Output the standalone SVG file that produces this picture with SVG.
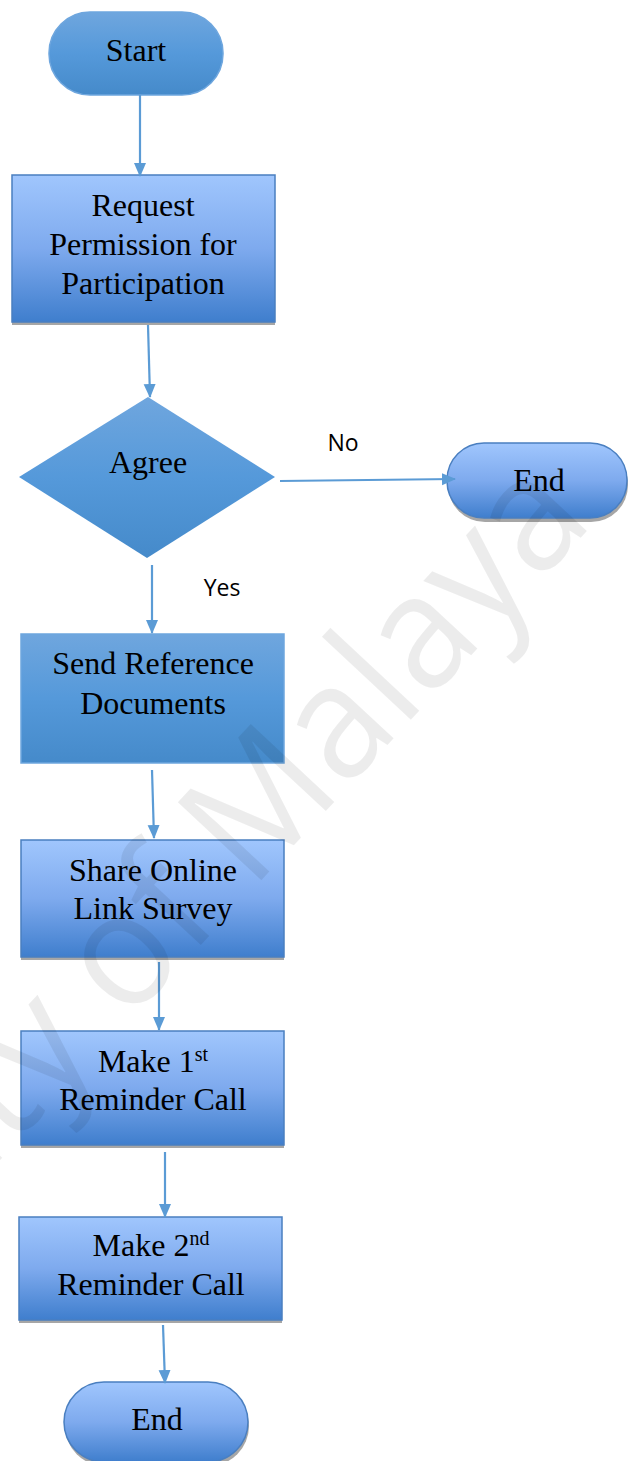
<svg xmlns="http://www.w3.org/2000/svg" width="628" height="1461" viewBox="0 0 628 1461">
<defs>
<linearGradient id="gl" x1="0" y1="0" x2="0" y2="1">
<stop offset="0" stop-color="#a0c6fd"/>
<stop offset="0.5" stop-color="#7eaaee"/>
<stop offset="1" stop-color="#3f7ecd"/>
</linearGradient>
<linearGradient id="gm" x1="0" y1="0" x2="0" y2="1">
<stop offset="0" stop-color="#6fa6de"/>
<stop offset="0.5" stop-color="#5599da"/>
<stop offset="1" stop-color="#458aca"/>
</linearGradient>
<marker id="ah" markerWidth="14" markerHeight="14" refX="13" refY="7" orient="auto" markerUnits="userSpaceOnUse" viewBox="0 0 14 14">
<path d="M0,1 L14,7 L0,13 Z" fill="#5b9bd5"/>
</marker>
</defs>
<style>
.t{font-family:"Liberation Serif","Times New Roman",serif;font-size:32px;fill:#000;text-anchor:middle}
.s{font-family:"Open Sans","Noto Sans",sans-serif;font-size:23px;fill:#000;text-anchor:middle}
.sh{fill:#a6a6a6}
.bl{fill:url(#gl);stroke:#4a7fc0;stroke-width:1.5}
.bm{fill:url(#gm);stroke:#6ea6de;stroke-width:1.5}
.c{stroke:#5b9bd5;stroke-width:2.2;fill:none;marker-end:url(#ah)}
.wm{font-family:"Open Sans","Noto Sans",sans-serif;font-size:160px;fill:#000;fill-opacity:0.075}
</style>
<rect width="628" height="1461" fill="#fff"/>

<g id="start">
<rect x="49" y="12" width="174" height="83" rx="41" class="bm"/>
<text x="136" y="61" class="t">Start</text>
</g>

<g id="request">
<rect x="12" y="178" width="263" height="147" class="sh"/>
<rect x="12" y="175" width="263" height="147" class="bl"/>
<text x="143" y="216" class="t">Request</text>
<text x="143" y="255" class="t">Permission for</text>
<text x="143" y="294" class="t">Participation</text>
</g>

<g id="agree">
<polygon points="148,397 275,477 147,558 19,477" fill="url(#gm)"/>
<text x="148" y="473" class="t">Agree</text>
</g>

<g id="end1">
<rect x="448" y="447" width="180" height="75" rx="37" class="sh"/>
<rect x="447" y="443" width="180" height="75" rx="37" class="bl"/>
<text x="539" y="491" class="t">End</text>
</g>

<g id="send">
<rect x="21" y="634" width="263" height="129" class="bm"/>
<text x="153" y="674" class="t">Send Reference</text>
<text x="153" y="714" class="t">Documents</text>
</g>

<g id="share">
<rect x="21" y="843" width="263" height="117" class="sh"/>
<rect x="21" y="840" width="263" height="117" class="bl"/>
<text x="153" y="881" class="t">Share Online</text>
<text x="153" y="919" class="t">Link Survey</text>
</g>

<g id="remind1">
<rect x="21" y="1034" width="263" height="114" class="sh"/>
<rect x="21" y="1031" width="263" height="114" class="bl"/>
<text x="153" y="1072" class="t">Make 1<tspan font-size="20" dy="-11">st</tspan></text>
<text x="153" y="1110" class="t">Reminder Call</text>
</g>

<g id="remind2">
<rect x="19" y="1220" width="263" height="103" class="sh"/>
<rect x="19" y="1217" width="263" height="103" class="bl"/>
<text x="151" y="1256" class="t">Make 2<tspan font-size="20" dy="-11">nd</tspan></text>
<text x="151" y="1295" class="t">Reminder Call</text>
</g>

<g id="end2">
<rect x="65" y="1386" width="184" height="80" rx="40" class="sh"/>
<rect x="64" y="1382" width="184" height="80" rx="40" class="bl"/>
<text x="157" y="1430" class="t">End</text>
</g>

<g id="connectors">
<line x1="140" y1="95" x2="140" y2="176" class="c"/>
<line x1="148" y1="325" x2="150" y2="397" class="c"/>
<line x1="280" y1="481" x2="455" y2="479" class="c"/>
<line x1="152" y1="565" x2="152" y2="633" class="c"/>
<line x1="152" y1="770" x2="154" y2="838" class="c"/>
<line x1="159" y1="962" x2="159" y2="1030" class="c"/>
<line x1="165" y1="1152" x2="165" y2="1217" class="c"/>
<line x1="163" y1="1325" x2="165" y2="1383" class="c"/>
<text x="343" y="451" class="s">No</text>
<text x="222" y="596" class="s">Yes</text>
</g>

<text class="wm" transform="translate(-382 1570) rotate(-47) scale(0.95 1)">University of Malaya</text>
</svg>
